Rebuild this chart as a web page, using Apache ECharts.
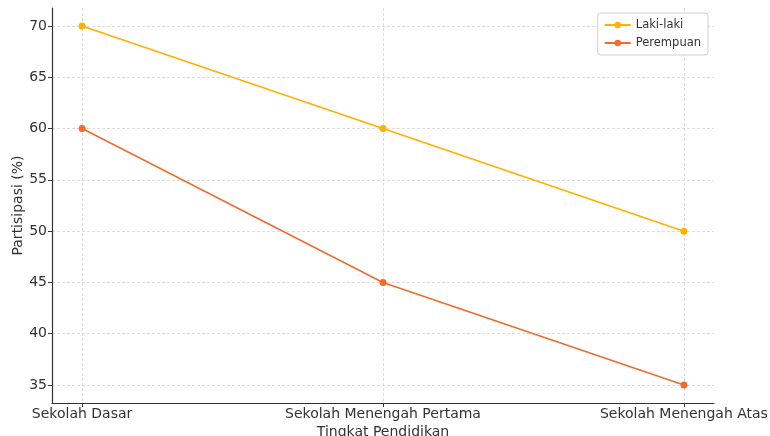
<!DOCTYPE html>
<html>
<head>
<meta charset="utf-8">
<script src="https://cdn.jsdelivr.net/npm/echarts@6/dist/echarts.min.js"></script>
<style>html,body{margin:0;padding:0;background:#fff}#c{width:770px;height:436px}</style>
</head>
<body>
<div id="c"></div>
<script>
const categories = ['Sekolah Dasar', 'Sekolah Menengah Pertama', 'Sekolah Menengah Atas'];
const lakiLaki = [70, 60, 50];
const perempuan = [60, 45, 35];
const yTicks = [35, 40, 45, 50, 55, 60, 65, 70];

const chart = echarts.init(document.getElementById('c'));
const font = 'DejaVu Sans';
const catIdx = categories.map((_, i) => i);
chart.setOption({
  animation: false,
  textStyle: { fontFamily: font },
  grid: { left: 52, right: 56, top: 8, bottom: 33, outerBoundsMode: 'none', containLabel: false },
  legend: {
    orient: 'vertical', right: 62, top: 13,
    backgroundColor: '#fff', borderColor: '#d0d0d0', borderWidth: 1, borderRadius: 3,
    padding: [6, 7, 6, 6], itemGap: 6, itemWidth: 26, itemHeight: 8,
    textStyle: { fontFamily: font, fontSize: 11.5, color: '#333' },
    data: ['Laki-laki', 'Perempuan']
  },
  xAxis: {
    type: 'value', min: -0.1, max: 2.1,
    name: 'Tingkat Pendidikan', nameLocation: 'middle', nameGap: 22, nameMoveOverlap: false,
    nameTextStyle: { fontFamily: font, fontSize: 14, color: '#333' },
    axisLine: { show: true, onZero: false, lineStyle: { color: '#333', width: 1.2 } },
    axisTick: { show: true, customValues: catIdx, length: 4, lineStyle: { color: '#333' } },
    axisLabel: { customValues: catIdx, formatter: v => categories[Math.round(v)] || '', fontSize: 14, color: '#333', margin: 4 },
    splitLine: { show: true, lineStyle: { color: '#d3d3d3', type: [3, 2], width: 0.8 } }
  },
  yAxis: {
    type: 'value', min: 33.25, max: 71.75,
    name: 'Partisipasi (%)', nameLocation: 'middle', nameGap: 27, nameMoveOverlap: false,
    nameTextStyle: { fontFamily: font, fontSize: 14, color: '#333' },
    axisLine: { show: true, onZero: false, lineStyle: { color: '#333', width: 1.2 } },
    axisTick: { show: true, customValues: yTicks, length: 4, lineStyle: { color: '#333' } },
    axisLabel: { customValues: yTicks, fontSize: 14, color: '#333', margin: 5 },
    splitLine: { show: true, lineStyle: { color: '#d3d3d3', type: [3, 2], width: 0.8 } }
  },
  series: [
    { name: 'Laki-laki', type: 'line', data: lakiLaki.map((v, i) => [i, v]),
      symbol: 'circle', symbolSize: 7, color: '#FFB000', lineStyle: { width: 1.6 } },
    { name: 'Perempuan', type: 'line', data: perempuan.map((v, i) => [i, v]),
      symbol: 'circle', symbolSize: 7, color: '#F26B2C', lineStyle: { width: 1.6 } }
  ]
});
</script>
</body>
</html>
